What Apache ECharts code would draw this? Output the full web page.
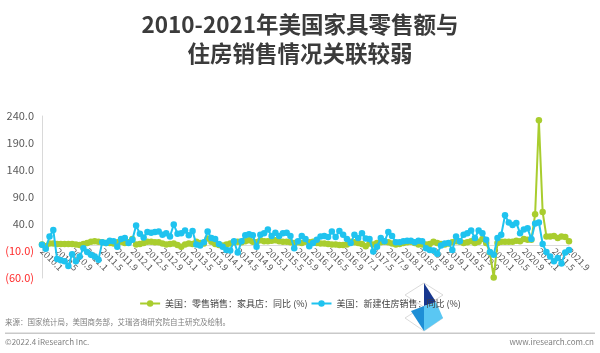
<!DOCTYPE html>
<html>
<head>
<meta charset="utf-8">
<script src="https://cdn.jsdelivr.net/npm/echarts@6/dist/echarts.min.js"></script>
<style>
html,body{margin:0;padding:0;background:#fff;}
#c{width:600px;height:353px;}
</style>
</head>
<body>
<div id="c"></div>
<script>
// Months 2010.1 .. 2021.9
var months = [];
for (var y = 2010; y <= 2021; y++) {
  for (var m = 1; m <= 12; m++) {
    if (y === 2021 && m > 9) break;
    months.push(y + '.' + m);
  }
}

var seriesNames = ['美国：零售销售：家具店：同比 (%)', '美国：新建住房销售：同比 (%)'];

// Furniture store retail sales YoY (%)
var furnitureYoY = [
  2, -1, 4, 4, 3, 3, 3, 3, 3, 2,
  1, 3, 5, 7, 8,
  7, 6, 5, 5, 4, 6, 7, 5, 6,
  12, 2,
  3, 5, 7, 7, 6, 6, 4, 2, 3, 4,
  1, -2, 2, 4, 3, 7, 5, 4,
  13,
  7, 3, 1, 0, 2, 4, 6,
  7, 6, 8, 10, 7, 6,
  10, 8, 8, 9, 10, 8, 7, 7, 6,
  5, 6, 5, 7, 6,
  7, 5, 4, 4, 3, 2, 2,
  1, 1, 2, 7,
  6, 5, 3, -1,
  4, 2, 5,
  6, 7, 6, 4, 2, 3,
  5, 6, 7, 5, 2,
  2, 2, 3, 7,
  5, 3, 2, 4, 6, 8,
  7, 5, 6, 8, 5, 7,
  12, 5, -13, -59, 5,
  7, 7, 7, 7, 9, 8, 12, 11, 11,
  58, 232, 62, 17, 17, 18, 14, 17, 16, 8
];

// New home sales YoY (%)
var newHomeYoY = [
  1.5, -6, 17, 29, -25, -27, -29, -38, -16, -29,
  -20, -5, -12, -17, -20, -26, 6, 5, 9, 8,
  -2, 12, 14, 5, 11, 37, 22, 15,
  25, 24, 25, 26, 20, 23, 17, 39, 22, 23,
  28, 19, 27, 2, 0, 6, 26, 14, 12, 3,
  -2, -8, -9, 8, -13, 8, 19, 21, 19, -2,
  20, 23, 30, 18, 24, 18, 23, 24, 18, -5,
  8, 18, 12, -1, 5, 11, 17, 18, 16, 26,
  16, 27, 20, 12, 5, 20, 14, 23, 13,
  12, -11, -2, 14, 8, 25, 18, 6, 6, 8,
  9, 9, 6, 9, 8, -5, -8, -9, -15, 0,
  4, 5, -8, 17, 8, 20, 23, 28, 14,
  28, 23, 11, -12, -17, 14, 20, 56, 43, 38,
  42, 23, 30, 32, 12, 41, 43, 3, -12, -20,
  -29, -23, -33, -13, -8
];

var yMin = -60, yMax = 240, yStep = 50;

var GREEN = '#a9cd2e';
var BLUE = '#1fc3ef';

var gridTop = 116, gridBottom = 75, H = 353;
var plotH = H - gridTop - gridBottom;
// shift the category axis up so it sits on the zero line
var zeroOffset = -plotH * (0 - yMin) / (yMax - yMin);

var chart = echarts.init(document.getElementById('c'), null, {renderer: 'canvas'});

var option = {
  backgroundColor: '#ffffff',
  animation: false,
  title: {
    text: '2010-2021年美国家具零售额与\n住房销售情况关联较弱',
    left: 'center',
    top: 5,
    textStyle: {
      fontFamily: 'Noto Sans CJK SC',
      fontWeight: 'bold',
      fontSize: 22.5,
      lineHeight: 29,
      color: '#3b3b3b'
    }
  },
  grid: {left: 42, right: 31, top: gridTop, bottom: gridBottom, containLabel: false},
  legend: {
    top: 294,
    left: 'center',
    itemWidth: 20,
    itemHeight: 8,
    itemGap: 3,
    textStyle: {fontFamily: 'Noto Sans CJK SC', fontSize: 9, color: '#404040'},
    data: seriesNames
  },
  xAxis: {
    type: 'category',
    data: months,
    boundaryGap: false,
    position: 'bottom',
    offset: zeroOffset,
    axisLine: {onZero: false, lineStyle: {color: '#dcdcdc', width: 1}},
    axisTick: {show: false},
    axisLabel: {
      interval: 3,
      rotate: -45,
      margin: 4,
      fontSize: 9,
      color: '#595959',
      fontFamily: 'Noto Sans CJK SC'
    },
    splitLine: {show: false}
  },
  yAxis: {
    type: 'value',
    min: yMin,
    max: yMax,
    interval: yStep,
    axisLine: {show: true, lineStyle: {color: '#d9d9d9', width: 1}},
    axisTick: {show: false},
    splitLine: {show: false},
    axisLabel: {
      margin: 8,
      fontSize: 11,
      color: '#595959',
      fontFamily: 'Noto Sans CJK SC',
      formatter: function (v) {
        if (v < 0) return '{neg|(' + Math.abs(v).toFixed(1) + ')}';
        return v.toFixed(1);
      },
      rich: {
        neg: {color: '#ff2b2b', fontSize: 11, fontFamily: 'Noto Sans CJK SC'}
      }
    }
  },
  series: [
    {
      name: seriesNames[0],
      type: 'line',
      data: furnitureYoY,
      symbol: 'circle',
      symbolSize: 6.5,
      showAllSymbol: true,
      lineStyle: {color: GREEN, width: 2},
      itemStyle: {color: GREEN},
      z: 2
    },
    {
      name: seriesNames[1],
      type: 'line',
      data: newHomeYoY,
      symbol: 'circle',
      symbolSize: 6.5,
      showAllSymbol: true,
      lineStyle: {color: BLUE, width: 2},
      itemStyle: {color: BLUE},
      z: 3
    }
  ],
  graphic: [
    {type: 'text', left: 5, top: 318, style: {text: '来源：国家统计局，美国商务部，艾瑞咨询研究院自主研究及绘制。', fontSize: 7.5, fill: '#7f7f7f', fontFamily: 'Noto Sans CJK SC'}},
    {type: 'rect', shape: {x: 5, y: 332.5, width: 590, height: 1.5}, style: {fill: '#c9c9c9'}},
    {type: 'text', left: 5, top: 338, style: {text: '©2022.4 iResearch Inc.', fontSize: 8, fill: '#7f7f7f', fontFamily: 'Noto Sans CJK SC'}},
    {type: 'text', right: 6, top: 338, style: {text: 'www.iresearch.com.cn', fontSize: 8, fill: '#7f7f7f', fontFamily: 'Noto Sans CJK SC'}},
    // watermark logo
    {type: 'group', z: 100, children: [
      {type: 'polygon', shape: {points: [[424,283],[443,295],[424,307],[405,295]]}, style: {fill: '#ffffff', stroke: '#d0d0d0', lineWidth: 0.8}},
      {type: 'polygon', shape: {points: [[424,306],[443,318],[424,331],[405,318]]}, style: {fill: '#ffffff', stroke: '#d0d0d0', lineWidth: 0.8}},
      {type: 'polygon', shape: {points: [[424,283],[436,302],[424,306]]}, style: {fill: '#17378f'}},
      {type: 'polygon', shape: {points: [[424,306],[436,302],[443,318],[424,331]]}, style: {fill: '#5ac7f3'}},
      {type: 'polygon', shape: {points: [[424,306],[411,311],[424,331]]}, style: {fill: '#1e8fd6'}}
    ]}
  ]
};

chart.setOption(option);
</script>
</body>
</html>
